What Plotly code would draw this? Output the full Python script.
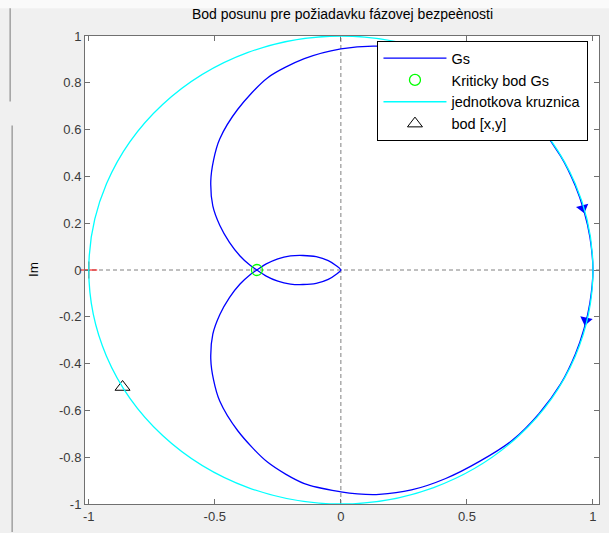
import plotly.graph_objects as go

# ---- data ----
# Gs Nyquist curve: negative-frequency branch (from origin, lower lobe, upper arc to (1,0))
gs_neg_re = [0.0, -0.018, -0.05, -0.098, -0.15, -0.2, -0.25, -0.296,
             -0.333, -0.36, -0.40, -0.442, -0.48, -0.508, -0.516, -0.505, -0.481,
             -0.409, -0.29, -0.145, 0.0, 0.139, 0.28, 0.416, 0.55, 0.68, 0.786,
             0.872, 0.93, 0.965, 0.988, 1.0]
gs_neg_im = [0.0, -0.018, -0.04, -0.057, -0.062, -0.06, -0.048, -0.026,
             0.0, 0.02, 0.06, 0.118, 0.19, 0.274, 0.38, 0.47, 0.559,
             0.687, 0.822, 0.903, 0.945, 0.957, 0.94, 0.891, 0.818, 0.728, 0.614,
             0.487, 0.36, 0.25, 0.14, 0.0]
# positive-frequency branch (from (1,0), lower arc, upper lobe to origin)
gs_pos_re = [0.988, 0.965, 0.93, 0.872, 0.786, 0.68, 0.55, 0.416, 0.28, 0.152,
             0.066, 0.0, -0.145, -0.29, -0.409, -0.481, -0.505, -0.516, -0.508,
             -0.48, -0.442, -0.40, -0.36, -0.333, -0.296, -0.25, -0.2, -0.15,
             -0.098, -0.05, -0.018, 0.0]
gs_pos_im = [-0.14, -0.25, -0.36, -0.487, -0.614, -0.728, -0.818, -0.891, -0.94, -0.959,
             -0.957, -0.948, -0.913, -0.822, -0.687, -0.559, -0.47, -0.38, -0.274,
             -0.19, -0.118, -0.06, -0.02, 0.0, 0.026, 0.048, 0.06, 0.062,
             0.057, 0.04, 0.018, 0.0]

arrow_re = [0.96, 0.972]
arrow_im = [0.265, -0.215]
arrow_angle = [-15, 12]

crit_re = [-0.333]
crit_im = [0.0]

minus_one_re = [-1.0]
minus_one_im = [0.0]

bod_re = [-0.866]
bod_im = [-0.5]

circle_box = [-1.0, 1.0]   # unit circle bounds

title_text = "Bod posunu pre požiadavku fázovej bezpeènosti"
y_label = "Im"
x_ticks = [-1, -0.5, 0, 0.5, 1]
x_ticklabels = ["-1", "-0.5", "0", "0.5", "1"]
y_ticks = [-1, -0.8, -0.6, -0.4, -0.2, 0, 0.2, 0.4, 0.6, 0.8, 1]
y_ticklabels = ["-1", "-0.8", "-0.6", "-0.4", "-0.2", "0", "0.2", "0.4", "0.6", "0.8", "1"]

FONT = "Liberation Sans, Arial, sans-serif"

fig = go.Figure()

fig.add_trace(go.Scatter(
    x=gs_neg_re + gs_pos_re, y=gs_neg_im + gs_pos_im, mode="lines",
    line=dict(color="#0000ff", width=1.3, shape="spline", smoothing=0.8),
    name="Gs", legendgroup="a"))

fig.add_trace(go.Scatter(
    x=arrow_re, y=arrow_im, mode="markers",
    marker=dict(symbol="triangle-down", size=11, color="#0000ff",
                angle=arrow_angle, line=dict(width=0)),
    showlegend=False, cliponaxis=False))

fig.add_trace(go.Scatter(
    x=crit_re, y=crit_im, mode="markers",
    marker=dict(symbol="circle-open", size=11, color="#00ff00", line=dict(width=1.3)),
    name="Kriticky bod Gs", legendgroup="b"))

fig.add_trace(go.Scatter(
    x=[None], y=[None], mode="lines",
    line=dict(color="#00ffff", width=1.3),
    name="jednotkova kruznica", legendgroup="c"))

fig.add_trace(go.Scatter(
    x=bod_re, y=bod_im, mode="markers",
    marker=dict(symbol="triangle-up-open", size=13, color="#000000", line=dict(width=1)),
    name="bod [x,y]", legendgroup="d"))

fig.add_trace(go.Scatter(
    x=minus_one_re, y=minus_one_im, mode="markers",
    marker=dict(symbol="cross-thin-open", size=12, color="#ff0000",
                line=dict(width=1.2, color="#ff0000")),
    showlegend=False, cliponaxis=False))

shapes = [
    # unit circle
    dict(type="circle", xref="x", yref="y",
         x0=circle_box[0], x1=circle_box[1], y0=circle_box[0], y1=circle_box[1],
         line=dict(color="#00ffff", width=1.3), layer="above"),
    # dashed axes through origin
    dict(type="line", xref="x domain", yref="y", x0=0, x1=1, y0=0, y1=0,
         line=dict(color="#808080", width=1, dash="4px,3px"), layer="below"),
    dict(type="line", xref="x", yref="y domain", x0=0, x1=0, y0=0, y1=1,
         line=dict(color="#808080", width=1, dash="4px,3px"), layer="below"),
    # window artefacts at left / top
    dict(type="rect", xref="paper", yref="paper", x0=-0.2, x1=1.05, y0=1.0594, y1=1.1,
         fillcolor="#fafafa", line=dict(width=0), layer="below"),
    dict(type="line", xref="paper", yref="paper", x0=-0.1456, x1=-0.1456, y0=1.0594, y1=0.8599,
         line=dict(color="#a0a0a0", width=1.5)),
    dict(type="line", xref="paper", yref="paper", x0=-0.1417, x1=-0.1417, y0=0.8089, y1=-0.06,
         line=dict(color="#a0a0a0", width=1.5)),
]

fig.update_layout(
    width=609, height=533,
    margin=dict(l=85, r=9, t=36, b=26, pad=0),
    paper_bgcolor="#f0f0f0", plot_bgcolor="#ffffff",
    font=dict(family=FONT, size=13, color="#000000"),
    title=dict(text=title_text, x=(342.5 / 609), xanchor="center",
               y=1 - 14 / 533, yanchor="middle", yref="container",
               font=dict(family=FONT, size=14, color="#000000")),
    shapes=shapes,
    showlegend=True,
    legend=dict(x=0.569, y=0.989, xanchor="left", yanchor="top",
                bgcolor="#ffffff", bordercolor="#000000", borderwidth=1,
                font=dict(family=FONT, size=14.5, color="#000000"),
                itemwidth=63, tracegroupgap=5, traceorder="normal"),
    annotations=[dict(text=y_label, xref="paper", yref="paper",
                      x=(33 - 85) / 515, y=0.5, textangle=-90, showarrow=False,
                      font=dict(family=FONT, size=13.5, color="#000000"),
                      xanchor="center", yanchor="middle")],
)

fig.update_xaxes(range=[-1.015, 1.024], tickvals=x_ticks, ticktext=x_ticklabels,
                 ticks="inside", ticklen=5, tickcolor="#707070", showline=True,
                 linecolor="#707070", linewidth=1, mirror="ticks", showgrid=False,
                 zeroline=False, tickfont=dict(family=FONT, size=13, color="#3a3a3a"))
fig.update_yaxes(range=[-1.0, 1.0], tickvals=y_ticks, ticktext=y_ticklabels,
                 ticks="inside", ticklen=5, tickcolor="#707070", showline=True,
                 linecolor="#707070", linewidth=1, mirror="ticks", showgrid=False,
                 zeroline=False, tickfont=dict(family=FONT, size=13, color="#3a3a3a"))

fig.write_html("out.html")
